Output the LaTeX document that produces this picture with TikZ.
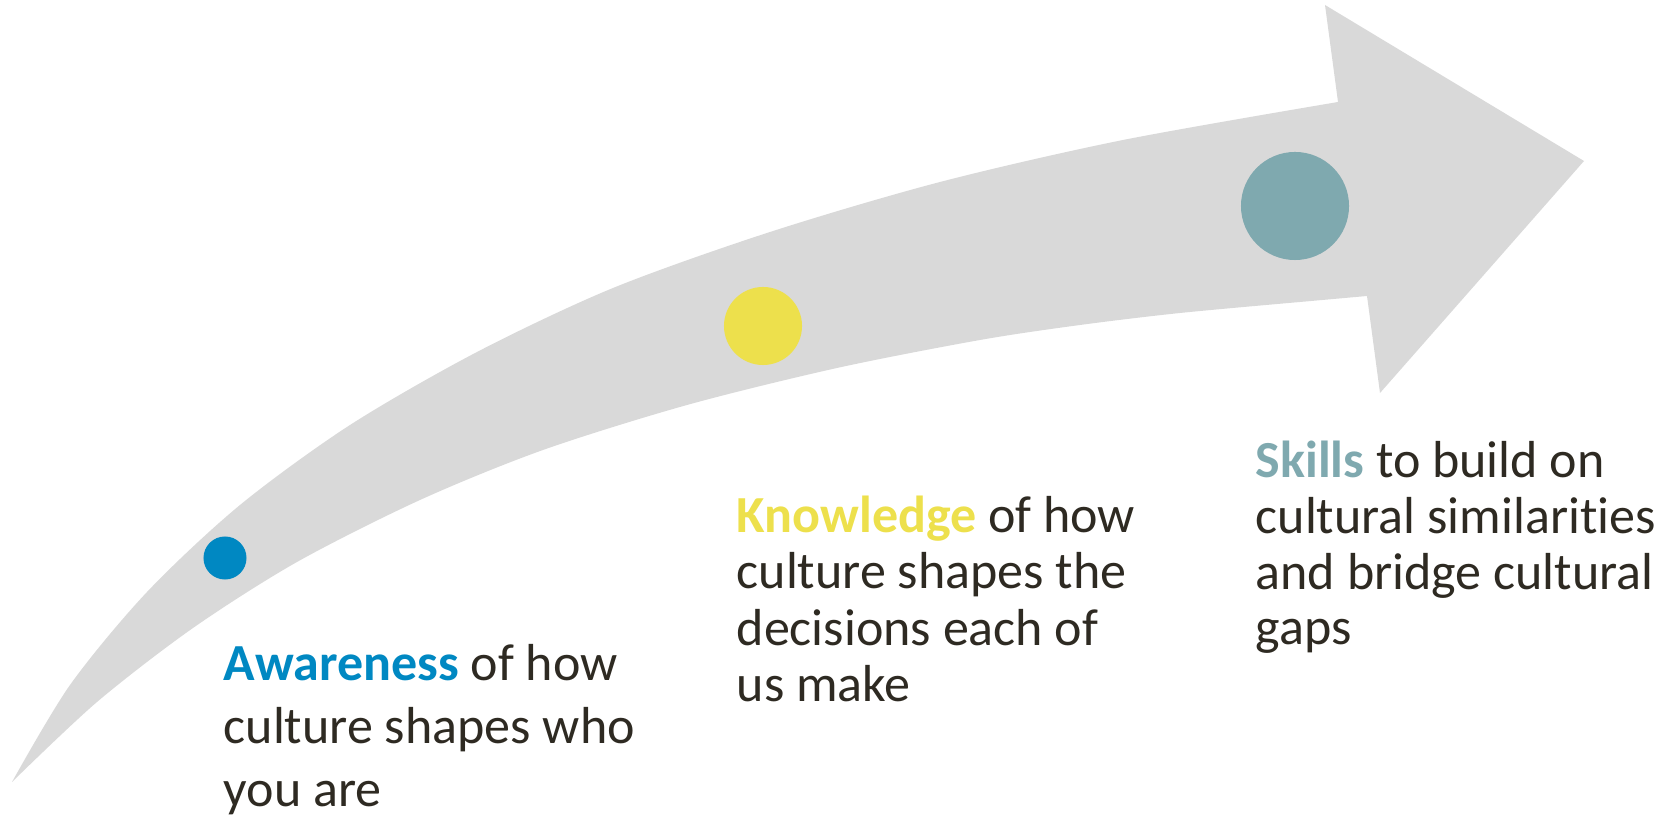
\documentclass[tikz,border=0pt]{standalone}
\usepackage{fontspec}
\setmainfont{Carlito}[RawFeature={-liga;-clig}]
\usepackage{tikz}

\definecolor{arrowgrey}{RGB}{217,217,217}
\definecolor{awareblue}{RGB}{0,136,194}
\definecolor{knowyellow}{RGB}{237,224,76}
\definecolor{skillteal}{RGB}{127,169,175}
\definecolor{textdark}{RGB}{46,42,34}

\begin{document}
\begin{tikzpicture}[x=0.01cm,y=-0.01cm,
    dot/.style={circle,fill,inner sep=0pt},
    label/.style={anchor=base west,inner sep=0pt,align=left,text=textdark,
      font=\fontsize{14.8}{16.1}\selectfont}]
  \useasboundingbox (0,0) rectangle (1669,816);
  \fill[arrowgrey] plot[smooth] coordinates {(12,782) (70,685) (147,592) (240,505) (350,425) (477,352) (613,288) (770,232) (940,182) (1123,140) (1338,102)}
    -- (1325,5) -- (1584,161) -- (1380,393) -- (1367,296)
    -- plot[smooth] coordinates {(1300,302) (1180,313) (1080,325) (980,340) (837,368) (687,405) (543,450) (420,500) (297,562) (193,628) (97,702) (12,782)} -- cycle;
  \node[dot,awareblue,minimum size=0.43cm] (awaredot) at (225,558) {};
  \node[dot,knowyellow,minimum size=0.78cm] (knowdot) at (763,326) {};
  \node[dot,skillteal,minimum size=1.08cm] (skilldot) at (1295,206) {};
  % base anchor sits on the last line
  \node[label,font=\fontsize{14.8}{18.0}\selectfont] (awaretext) at (223,807)
    {\textcolor{awareblue}{\textbf{Awareness}} of how\\culture shapes who\\you are};
  \node[label] (knowtext) at (736,702)
    {\textcolor{knowyellow}{\textbf{Knowledge}} of how\\culture shapes the\\decisions each of\\us make};
  \node[label,font=\fontsize{14.8}{15.9}\selectfont] (skilltext) at (1255,645)
    {\textcolor{skillteal}{\textbf{Skills}} to build on\\cultural similarities\\and bridge cultural\\gaps};
\end{tikzpicture}
\end{document}
